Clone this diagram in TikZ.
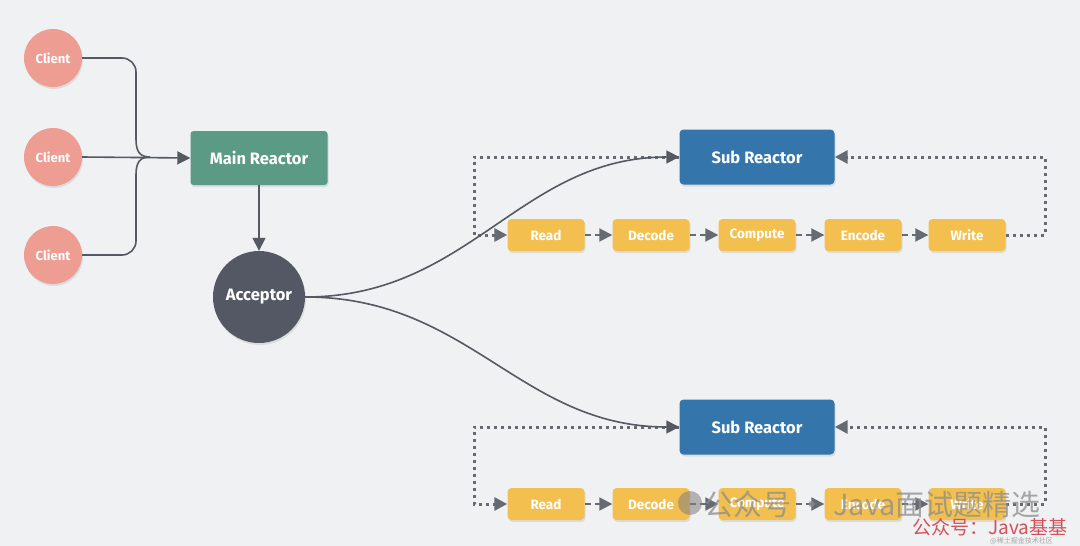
\documentclass[tikz,border=0pt]{standalone}
\usepackage{fontspec}
\setmainfont{Fira Sans}
\newfontfamily\cjk{Noto Sans CJK SC}
\usetikzlibrary{arrows.meta,shadows}
\definecolor{bg}{HTML}{EFF1F3}
\definecolor{clientc}{HTML}{EE9D92}
\definecolor{mainc}{HTML}{5B9A84}
\definecolor{accc}{HTML}{545864}
\definecolor{subc}{HTML}{3476AC}
\definecolor{stepc}{HTML}{F3C04F}
\definecolor{linec}{HTML}{555A62}
\definecolor{wmred}{HTML}{D4505A}
\tikzset{
  shd/.style={drop shadow={shadow xshift=1pt,shadow yshift=-2pt,opacity=0.18}},
  client/.style={circle,fill=clientc,minimum size=58pt,inner sep=0pt,shd,text=white,font=\bfseries\fontsize{13}{14}\selectfont},
  mainbox/.style={rectangle,rounded corners=3pt,fill=mainc,minimum width=137pt,minimum height=54pt,shd,text=white,font=\bfseries\fontsize{16.5}{18}\selectfont},
  accbox/.style={circle,fill=accc,minimum size=92pt,inner sep=0pt,shd,text=white,font=\bfseries\fontsize{16.5}{18}\selectfont},
  subbox/.style={rectangle,rounded corners=4pt,fill=subc,minimum width=155pt,minimum height=55pt,shd,text=white,font=\bfseries\fontsize{16.5}{18}\selectfont},
  stepbox/.style={rectangle,rounded corners=4pt,fill=stepc,minimum width=77pt,minimum height=32pt,shd,text=white,font=\bfseries\fontsize{13.5}{15}\selectfont},
  conn/.style={draw=linec,line width=1.6pt},
  tip/.style={-{Triangle[width=13pt,length=13pt]}},
  dots/.style={draw=linec!90,line width=3pt,dash pattern=on 3pt off 4pt},
  dash2/.style={draw=linec!90,line width=2pt,dash pattern=on 6pt off 4pt},
}
\begin{document}
\begin{tikzpicture}[x=1pt,y=-1pt]
\fill[bg] (0,0) rectangle (1080,546);
\useasboundingbox (0,0) rectangle (1080,546);

% clients
\node[client] (c1) at (53,58) {Client};
\node[client] (c2) at (53,157) {Client};
\node[client] (c3) at (53,255) {Client};
\node[mainbox] (mr) at (259,158) {Main Reactor};
\node[accbox] (acc) at (259,297) {Acceptor};

\coordinate (m1) at (150,157);
\draw[conn,rounded corners=14pt] (c1.east) -- (136,58) -- (136,140);
\draw[conn] (136,139) .. controls (136,152) and (140,157) .. (m1);
\draw[conn,rounded corners=14pt] (c3.east) -- (136,255) -- (136,174);
\draw[conn] (136,175) .. controls (136,162) and (140,157) .. (m1);
\draw[conn,tip] (c2.east) -- (mr.west);
\draw[conn,tip] (mr.south) -- (acc.north);

% sub reactors
\node[subbox] (s1) at (757,157) {Sub Reactor};
\node[subbox] (s2) at (757,427) {Sub Reactor};

\foreach \r/\y in {1/235,2/504}{
  \node[stepbox] (rd\r) at (546,\y) {Read};
  \node[stepbox] (dc\r) at (651,\y) {Decode};
  \node[stepbox] (cp\r) at (757,\y) {Compute};
  \node[stepbox] (ec\r) at (863,\y) {Encode};
  \node[stepbox] (wr\r) at (967,\y) {Write};
  \draw[dash2,tip] (rd\r.east) -- (dc\r.west);
  \draw[dash2,tip] (dc\r.east) -- (cp\r.west);
  \draw[dash2,tip] (cp\r.east) -- (ec\r.west);
  \draw[dash2,tip] (ec\r.east) -- (wr\r.west);
}
\draw[dots,tip] (s1.west) -- (474,157) -- (474,235) -- (rd1.west);
\draw[dots,tip] (wr1.east) -- (1045,235) -- (1045,157) -- (s1.east);
\draw[dots,tip] (s2.west) -- (474,427) -- (474,504) -- (rd2.west);
\draw[dots,tip] (wr2.east) -- (1045,504) -- (1045,427) -- (s2.east);

% curves
\draw[conn,tip] (acc.east) .. controls (470,297) and (520,157) .. (s1.west);
\draw[conn,tip] (acc.east) .. controls (470,297) and (520,427) .. (s2.west);

% watermarks
\fill[gray,opacity=0.55] (690,503) circle (12pt);
\node[anchor=west,text=gray!90,opacity=0.75,font=\cjk\fontsize{29}{31}\selectfont,inner sep=0pt] (wm1) at (704,504) {公众号 · Java面试题精选};
\node[anchor=west,text=wmred,font=\cjk\fontsize{19}{20}\selectfont,inner sep=0pt] (wm2) at (912,527) {公众号：Java基基};
\node[anchor=west,text=gray!70,font=\cjk\fontsize{7}{8}\selectfont,inner sep=0pt] (wm3) at (990,541) {@稀土掘金技术社区};
\end{tikzpicture}
\end{document}
